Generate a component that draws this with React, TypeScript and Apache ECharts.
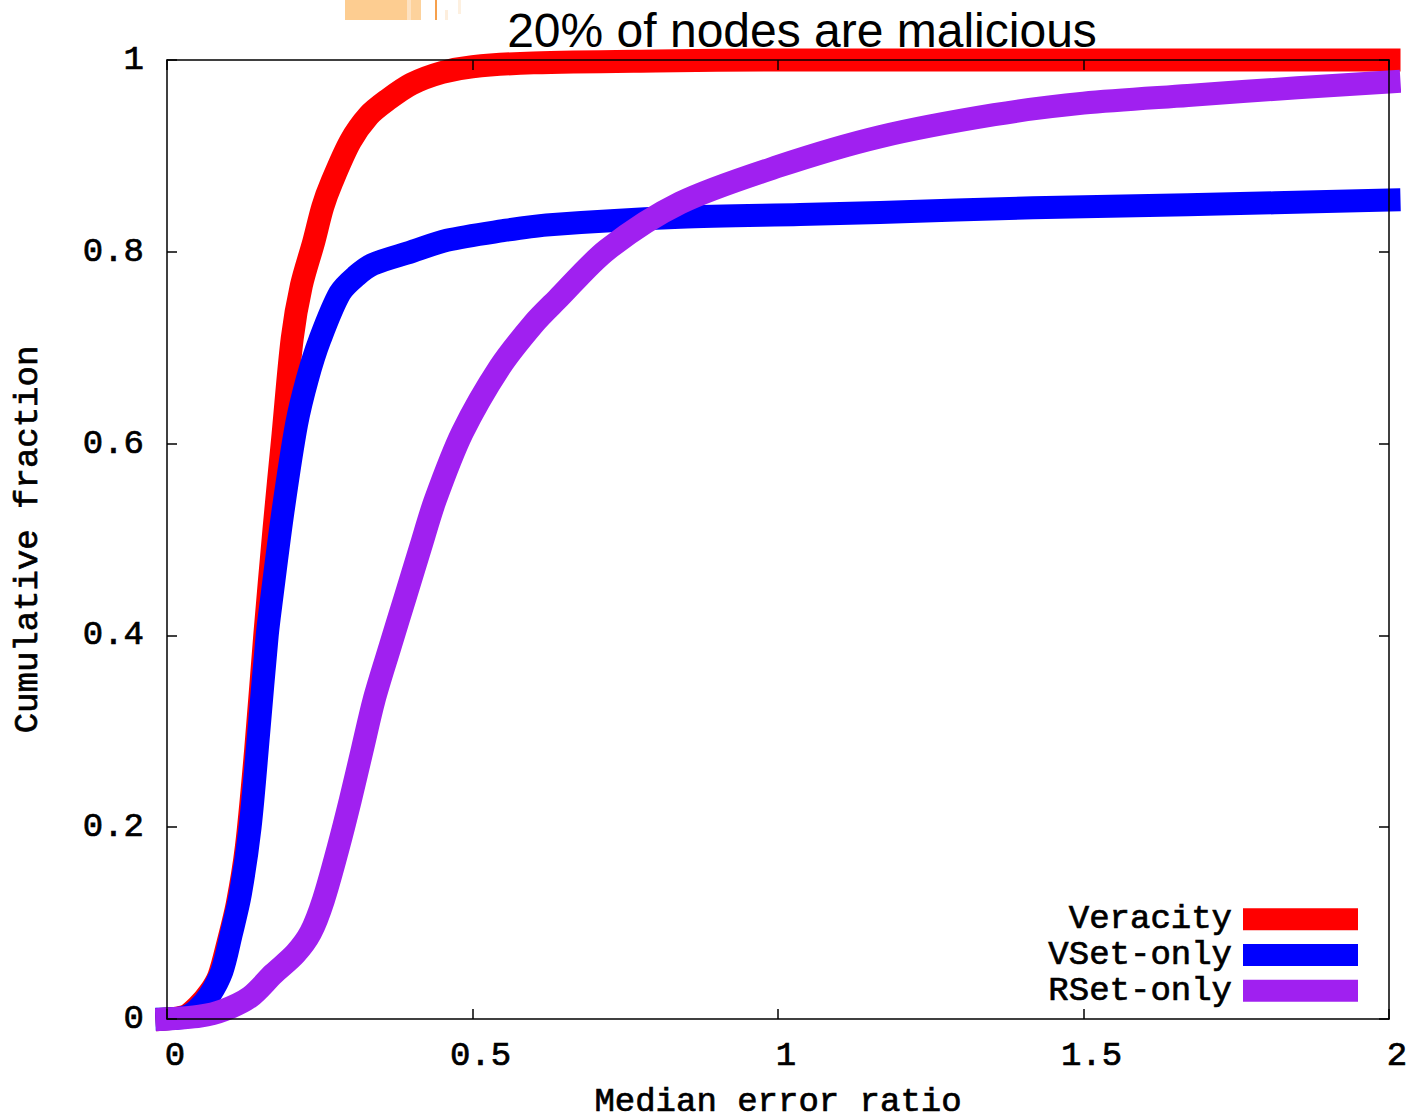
import React, { useEffect, useRef } from "react";
import * as echarts from "echarts";

// Text
const TITLE = "20% of nodes are malicious";
const X_NAME = "Median error ratio";
const Y_NAME = "Cumulative fraction";

// Series names and colours (legend order = drawing order)
const SERIES_NAMES = ["Veracity", "VSet-only", "RSet-only"];
const SERIES_COLORS = ["#ff0000", "#0000ff", "#a020f0"];

// Axis ranges
const X_MIN = 0;
const X_MAX = 2;
const X_STEP = 0.5;
const Y_MIN = 0;
const Y_MAX = 1;
const Y_STEP = 0.2;

// Veracity CDF
const veracityX = [0, 0.03, 0.05, 0.07, 0.085, 0.1, 0.115, 0.13, 0.145, 0.16, 0.175, 0.19, 0.205, 0.22, 0.24, 0.255, 0.27, 0.3, 0.33, 0.36, 0.4, 0.45, 0.5, 0.6, 0.8, 1, 2];
const veracityF = [0, 0.003, 0.013, 0.028, 0.045, 0.08, 0.12, 0.18, 0.28, 0.4, 0.51, 0.61, 0.71, 0.765, 0.81, 0.847, 0.873, 0.915, 0.942, 0.958, 0.975, 0.987, 0.993, 0.997, 0.999, 1, 1];

// VSet-only CDF
const vsetX = [0, 0.03, 0.05, 0.07, 0.09, 0.105, 0.12, 0.136, 0.15, 0.164, 0.171, 0.19, 0.212, 0.23, 0.25, 0.283, 0.31, 0.337, 0.4, 0.458, 0.55, 0.621, 0.84, 1.036, 1.167, 1.417, 1.67, 2];
const vsetF = [0, 0.002, 0.01, 0.025, 0.05, 0.088, 0.13, 0.2, 0.298, 0.4, 0.437, 0.53, 0.62, 0.668, 0.708, 0.757, 0.775, 0.787, 0.8, 0.812, 0.822, 0.828, 0.836, 0.839, 0.841, 0.846, 0.849, 0.854];

// RSet-only CDF
const rsetX = [0, 0.054, 0.092, 0.136, 0.174, 0.21, 0.235, 0.256, 0.28, 0.3, 0.32, 0.339, 0.365, 0.39, 0.415, 0.439, 0.483, 0.545, 0.6, 0.638, 0.72, 0.84, 1.0, 1.167, 1.354, 1.5, 1.671, 1.85, 2];
const rsetF = [0, 0.003, 0.009, 0.023, 0.047, 0.068, 0.09, 0.124, 0.178, 0.228, 0.282, 0.333, 0.388, 0.44, 0.492, 0.541, 0.611, 0.68, 0.725, 0.75, 0.802, 0.851, 0.889, 0.92, 0.943, 0.955, 0.963, 0.971, 0.977];

const SERIES_X = [veracityX, vsetX, rsetX];
const SERIES_F = [veracityF, vsetF, rsetF];

const MONO = "Liberation Mono";
const MONO_SIZE = 34;

const zip = (xs: number[], ys: number[]) => xs.map((x, i) => [x, ys[i]]);

const axisLineStyle = { color: "#000", width: 1.5 };

export default function App() {
  const ref = useRef<HTMLDivElement>(null);

  useEffect(() => {
    if (!ref.current) return;
    const chart = echarts.init(ref.current, null, { renderer: "svg" });

    const series = SERIES_NAMES.map((name, i) => ({
      name,
      type: "line",
      data: zip(SERIES_X[i], SERIES_F[i]),
      showSymbol: false,
      symbol: "none",
      smooth: 0.3,
      clip: false,
      silent: true,
      z: 2,
      itemStyle: { color: SERIES_COLORS[i] },
      lineStyle: { color: SERIES_COLORS[i], width: 23, cap: "square", join: "round" },
      emphasis: { disabled: true },
    }));

    // Monospace text, thickened slightly with a thin same-colour outline
    const monoText = {
      fontFamily: MONO,
      fontSize: MONO_SIZE,
      lineHeight: MONO_SIZE,
      color: "#000",
      textBorderColor: "#000",
      textBorderWidth: 0.7,
    };

    chart.setOption({
      animation: false,
      backgroundColor: "#ffffff",
      title: {
        text: TITLE,
        left: 802,
        top: 6,
        textAlign: "center",
        padding: 0,
        textStyle: {
          fontFamily: "Liberation Sans",
          fontSize: 48,
          lineHeight: 48,
          fontWeight: "normal",
          color: "#000",
        },
      },
      legend: {
        orient: "vertical",
        align: "right",
        right: 51,
        top: 902,
        padding: 0,
        itemWidth: 115,
        itemHeight: 22,
        itemGap: 1,
        icon: "rect",
        itemStyle: { borderWidth: 0 },
        textStyle: { ...monoText, padding: [0, 6, 0, 0] },
        data: SERIES_NAMES,
        selectedMode: false,
      },
      grid: {
        left: 167,
        top: 60,
        width: 1222,
        height: 959,
        containLabel: false,
        outerBoundsMode: "none",
      },
      xAxis: [
        {
          type: "value",
          position: "bottom",
          min: X_MIN,
          max: X_MAX,
          interval: X_STEP,
          z: 10,
          name: X_NAME,
          nameLocation: "middle",
          nameGap: 66,
          nameTextStyle: monoText,
          axisLine: { show: true, onZero: false, lineStyle: axisLineStyle },
          axisTick: { show: true, inside: true, length: 10, lineStyle: axisLineStyle },
          axisLabel: { ...monoText, margin: 20, padding: [0, 0, 0, 16] },
          splitLine: { show: false },
        },
        {
          type: "value",
          position: "top",
          min: X_MIN,
          max: X_MAX,
          interval: X_STEP,
          z: 10,
          axisLine: { show: true, onZero: false, lineStyle: axisLineStyle },
          axisTick: { show: true, inside: true, length: 10, lineStyle: axisLineStyle },
          axisLabel: { show: false },
          splitLine: { show: false },
        },
      ],
      yAxis: [
        {
          type: "value",
          position: "left",
          min: Y_MIN,
          max: Y_MAX,
          interval: Y_STEP,
          z: 10,
          name: Y_NAME,
          nameLocation: "middle",
          nameRotate: 90,
          nameGap: 122,
          nameTextStyle: monoText,
          axisLine: { show: true, onZero: false, lineStyle: axisLineStyle },
          axisTick: { show: true, inside: true, length: 10, lineStyle: axisLineStyle },
          axisLabel: { ...monoText, margin: 23, padding: [8, 0, 0, 0] },
          splitLine: { show: false },
        },
        {
          type: "value",
          position: "right",
          min: Y_MIN,
          max: Y_MAX,
          interval: Y_STEP,
          z: 10,
          axisLine: { show: true, onZero: false, lineStyle: axisLineStyle },
          axisTick: { show: true, inside: true, length: 10, lineStyle: axisLineStyle },
          axisLabel: { show: false },
          splitLine: { show: false },
        },
      ],
      // Pale orange strip along the top edge
      graphic: [
        { type: "rect", silent: true, shape: { x: 345, y: 0, width: 62, height: 20 }, style: { fill: "#fdcd91" } },
        { type: "rect", silent: true, shape: { x: 407, y: 0, width: 4, height: 20 }, style: { fill: "#fde2c2" } },
        { type: "rect", silent: true, shape: { x: 411, y: 0, width: 10, height: 20 }, style: { fill: "#fdd29c" } },
        { type: "rect", silent: true, shape: { x: 435, y: 0, width: 2, height: 20 }, style: { fill: "#f6a04c" } },
        { type: "rect", silent: true, shape: { x: 445, y: 10, width: 3, height: 10 }, style: { fill: "#fdeedd" } },
        { type: "rect", silent: true, shape: { x: 458, y: 0, width: 3, height: 14 }, style: { fill: "#fdf0e0" } },
      ],
      series,
    });

    return () => chart.dispose();
  }, []);

  return (
    <div
      ref={ref}
      style={{ position: "fixed", left: 0, top: 0, width: 1409, height: 1120, background: "#fff" }}
    />
  );
}
